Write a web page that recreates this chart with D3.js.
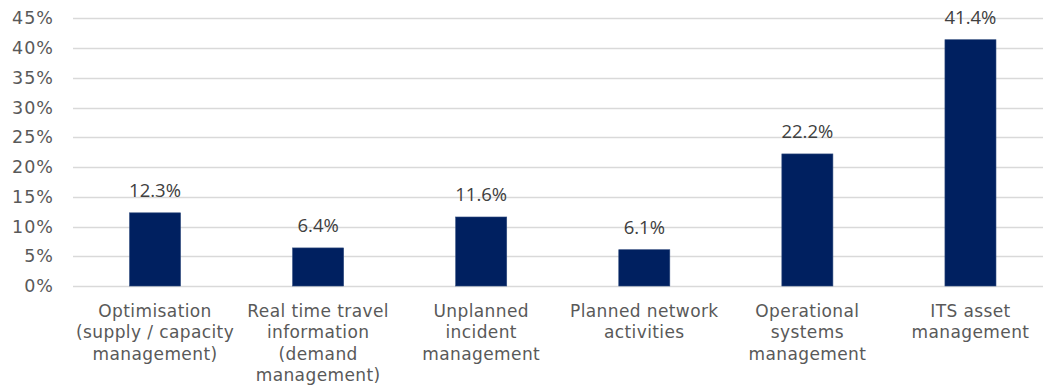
<!DOCTYPE html>
<html>
<head>
<meta charset="utf-8">
<script src="https://cdn.jsdelivr.net/npm/d3@7"></script>
<style>
  html, body { margin: 0; padding: 0; background: #ffffff; }
  svg { display: block; }
</style>
</head>
<body>
<svg id="chart" width="1043" height="387"></svg>
<script>
// Share of activity by ITS function
const categories = [
  ["Optimisation", "(supply / capacity", "management)"],
  ["Real time travel", "information", "(demand", "management)"],
  ["Unplanned", "incident", "management"],
  ["Planned network", "activities"],
  ["Operational", "systems", "management"],
  ["ITS asset", "management"]
];
const values = [12.3, 6.4, 11.6, 6.1, 22.2, 41.4];
const yTicks = [0, 5, 10, 15, 20, 25, 30, 35, 40, 45];

const svg = d3.select("#chart");

const x = d3.scaleBand()
  .domain(d3.range(categories.length))
  .range([73.5, 1052])
  .paddingInner(0.687)
  .paddingOuter(0.3435);

const y = d3.scaleLinear()
  .domain([0, 45])
  .range([286, 18.3]);

// gridlines
svg.append("g")
  .selectAll("line")
  .data(yTicks)
  .join("line")
  .attr("x1", 73)
  .attr("x2", 1043)
  .attr("y1", d => Math.round(y(d)) + 0.5)
  .attr("y2", d => Math.round(y(d)) + 0.5)
  .attr("stroke", "#d9d9d9")
  .attr("stroke-width", 1.3);

// y axis labels
const yAxis = d3.axisLeft(y)
  .tickValues(yTicks)
  .tickFormat(d => d + "%")
  .tickSize(0)
  .tickPadding(0);

const gy = svg.append("g")
  .attr("transform", "translate(54,0)")
  .call(yAxis);
gy.select(".domain").remove();
gy.selectAll("text")
  .attr("font-family", "'DejaVu Sans', Verdana, sans-serif")
  .attr("font-size", 17.5)
  .attr("letter-spacing", 1)
  .attr("fill", "#595959");

// bars
svg.append("g")
  .selectAll("rect")
  .data(values)
  .join("rect")
  .attr("x", (d, i) => x(i))
  .attr("width", x.bandwidth())
  .attr("y", d => y(d))
  .attr("height", d => y(0) - y(d))
  .attr("fill", "#002060")
  .attr("stroke", "#2e4a7d")
  .attr("stroke-width", 0.6);

// value labels
svg.append("g")
  .selectAll("text")
  .data(values)
  .join("text")
  .attr("x", (d, i) => x(i) + x.bandwidth() / 2)
  .attr("y", d => y(d) - 15.5)
  .attr("text-anchor", "middle")
  .attr("font-family", "'Open Sans', sans-serif")
  .attr("font-size", 18.5)
  .attr("fill", "#404040")
  .text(d => d.toFixed(1) + "%");

// category labels
const xAxis = d3.axisBottom(x).tickSize(0).tickFormat("");
const gx = svg.append("g")
  .attr("transform", "translate(0,286)")
  .call(xAxis);
gx.select(".domain").remove();

gx.selectAll(".tick").each(function(i) {
  const t = d3.select(this).append("text")
    .attr("text-anchor", "middle")
    .attr("font-family", "'DejaVu Sans', Verdana, sans-serif")
    .attr("font-size", 17)
    .attr("letter-spacing", 0.4)
    .attr("fill", "#595959");
  categories[i].forEach((line, k) => {
    t.append("tspan")
      .attr("x", 0)
      .attr("y", 30.5 + k * 21.6)
      .text(line);
  });
});
</script>
</body>
</html>
